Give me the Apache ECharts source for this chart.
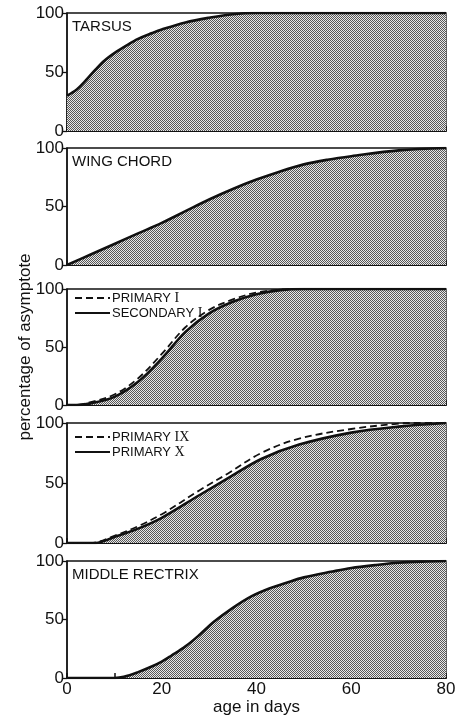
<!DOCTYPE html>
<html>
<head>
<meta charset="utf-8">
<script src="https://cdn.jsdelivr.net/npm/echarts@6/dist/echarts.min.js"></script>
<style>
  html, body { margin: 0; padding: 0; background: #fff; }
  #chart { width: 469px; height: 718px; }
</style>
</head>
<body>
<div id="chart"></div>
<script>
// growth curves, percentage of asymptote against age in days
var tarsusDays   = [0, 2, 4, 6, 8, 10, 12, 15, 18, 20, 25, 30, 35, 40, 50, 60, 70, 80];
var tarsusVals   = [30, 35, 43, 52, 60, 66, 71, 78, 83, 86, 92, 96, 99, 100, 100, 100, 100, 100];

var wingDays     = [0, 5, 10, 15, 20, 25, 30, 35, 40, 45, 50, 55, 60, 70, 80];
var wingVals     = [0, 9, 18, 27, 36, 46, 56, 65, 73, 80, 86, 90, 93, 98, 100];

var primary1Days = [0, 2, 5, 10, 15, 20, 25, 30, 35, 40, 45, 48, 60, 80];
var primary1Vals = [0, 0, 2.5, 9, 23, 44, 67, 82, 91, 97, 99.5, 100, 100, 100];
var second1Days  = [0, 2, 5, 10, 15, 20, 25, 30, 35, 40, 45, 50, 60, 80];
var second1Vals  = [0, 0, 1.4, 7, 20, 40, 63, 79, 89, 95.5, 99, 100, 100, 100];

var primary9Days = [0, 5, 10, 15, 20, 28, 34, 41, 49, 60, 70, 73, 80];
var primary9Vals = [0, 0, 6, 14, 24, 44, 58, 75, 87, 95, 99.5, 100, 100];
var primary10Days = [0, 6, 10, 15, 20, 28, 34, 41, 49, 60, 70, 80];
var primary10Vals = [0, 0, 5, 12, 21, 40, 54, 70, 82, 92, 97, 100];

var rectrixDays  = [0, 10, 12, 15, 18, 20, 22, 25, 28, 31, 35, 39, 43, 46, 50, 56, 60, 65, 70, 75, 80];
var rectrixVals  = [0, 0, 1, 5, 10, 14, 19, 27, 37, 48, 60, 70, 77, 81, 86, 91, 94, 96.5, 98.5, 99.5, 100];

var panelTitles  = ['TARSUS', 'WING CHORD', '', '', 'MIDDLE RECTRIX'];
var xTicks       = [0, 20, 40, 60, 80];
var yTicks       = [0, 50, 100];

function pairs(days, vals) {
    var out = [];
    for (var i = 0; i < days.length; i++) out.push([days[i], vals[i]]);
    return out;
}

function makeHalftone() {
    var c = document.createElement('canvas');
    c.width = 2; c.height = 2;
    var ctx = c.getContext('2d');
    ctx.fillStyle = '#e8e8e8'; ctx.fillRect(0, 0, 2, 2);
    ctx.fillStyle = '#575757'; ctx.fillRect(0, 0, 1, 1); ctx.fillRect(1, 1, 1, 1);
    return c;
}
var halftone = { image: makeHalftone(), repetition: 'repeat' };

var FONT = 'Liberation Sans';
var ink = '#111';
var tops    = [13, 148, 289, 423, 561];
var heights = [118, 117, 116, 120, 117];

var grids = [], xAxes = [], yAxes = [], titles = [];
for (var g = 0; g < 5; g++) {
    grids.push({ left: 67, width: 379, top: tops[g], height: heights[g],
        show: true, borderColor: ink, borderWidth: 1.3, backgroundColor: 'transparent' });
    var last = g === 4;
    xAxes.push({
        type: 'value', gridIndex: g, min: 0, max: 80, interval: 10,
        axisLine: { show: true, onZero: false, lineStyle: { color: ink, width: 1.8 } },
        axisTick: { show: true, inside: true, length: 5, lineStyle: { color: ink, width: 1.5 } },
        axisLabel: { show: last, margin: 3, color: ink, fontFamily: FONT, fontSize: 17,
            formatter: function (v) { return xTicks.indexOf(v) >= 0 ? String(v) : ''; } },
        splitLine: { show: false },
        name: last ? 'age in days' : '', nameLocation: 'middle', nameGap: 21,
        nameTextStyle: { color: ink, fontFamily: FONT, fontSize: 17 }
    });
    yAxes.push({
        type: 'value', gridIndex: g, min: 0, max: 100, interval: 50,
        axisLine: { show: true, lineStyle: { color: ink, width: 1.5 } },
        axisTick: { show: true, length: 5, lineStyle: { color: ink, width: 1.3 } },
        axisLabel: { margin: 3, color: ink, fontFamily: FONT, fontSize: 17,
            formatter: function (v) { return yTicks.indexOf(v) >= 0 ? String(v) : ''; } },
        splitLine: { show: false },
        name: g === 2 ? 'percentage of asymptote' : '', nameLocation: 'middle', nameGap: 33, nameRotate: 90,
        nameMoveOverlap: false,
        nameTextStyle: { color: ink, fontFamily: FONT, fontSize: 17 }
    });
    if (panelTitles[g]) {
        titles.push({ text: panelTitles[g], left: 72, top: tops[g] + 6, padding: 0,
            textStyle: { color: ink, fontFamily: FONT, fontSize: 15, fontWeight: 'normal' } });
    }
}

function curve(name, idx, data, dashed, filled) {
    return {
        name: name, type: 'line', xAxisIndex: idx, yAxisIndex: idx,
        data: data, smooth: 0.35, symbol: 'none',
        lineStyle: { color: ink, width: dashed ? 1.8 : 2.6, type: dashed ? [7, 4] : 'solid' },
        itemStyle: { color: ink },
        areaStyle: filled ? { color: halftone, opacity: 1 } : null,
        z: dashed ? 3 : 2, silent: true, animation: false
    };
}

var legendRich = {
    a: { fontFamily: FONT, fontSize: 13, color: ink },
    n: { fontFamily: 'Liberation Serif', fontSize: 14, color: ink }
};
function legendFmt(name) {
    var k = name.lastIndexOf(' ');
    return '{a|' + name.slice(0, k + 1) + '}{n|' + name.slice(k + 1) + '}';
}
function legendAt(top, names) {
    return { data: names, left: 74, top: top, orient: 'vertical', itemWidth: 35, itemHeight: 14,
        itemGap: 1, padding: 0, selectedMode: false, formatter: legendFmt,
        itemStyle: { color: 'transparent', borderWidth: 0, opacity: 0 },
        textStyle: { rich: legendRich, padding: [0, 0, 0, -3] } };
}

var chart = echarts.init(document.getElementById('chart'), null, { renderer: 'canvas' });
chart.setOption({
    animation: false,
    backgroundColor: '#fff',
    title: titles,
    legend: [
        legendAt(291, ['PRIMARY I', 'SECONDARY I']),
        legendAt(430, ['PRIMARY IX', 'PRIMARY X'])
    ],
    grid: grids,
    xAxis: xAxes,
    yAxis: yAxes,
    series: [
        curve('TARSUS', 0, pairs(tarsusDays, tarsusVals), false, true),
        curve('WING CHORD', 1, pairs(wingDays, wingVals), false, true),
        curve('SECONDARY I', 2, pairs(second1Days, second1Vals), false, true),
        curve('PRIMARY I', 2, pairs(primary1Days, primary1Vals), true, false),
        curve('PRIMARY X', 3, pairs(primary10Days, primary10Vals), false, true),
        curve('PRIMARY IX', 3, pairs(primary9Days, primary9Vals), true, false),
        curve('MIDDLE RECTRIX', 4, pairs(rectrixDays, rectrixVals), false, true)
    ]
});
</script>
</body>
</html>
